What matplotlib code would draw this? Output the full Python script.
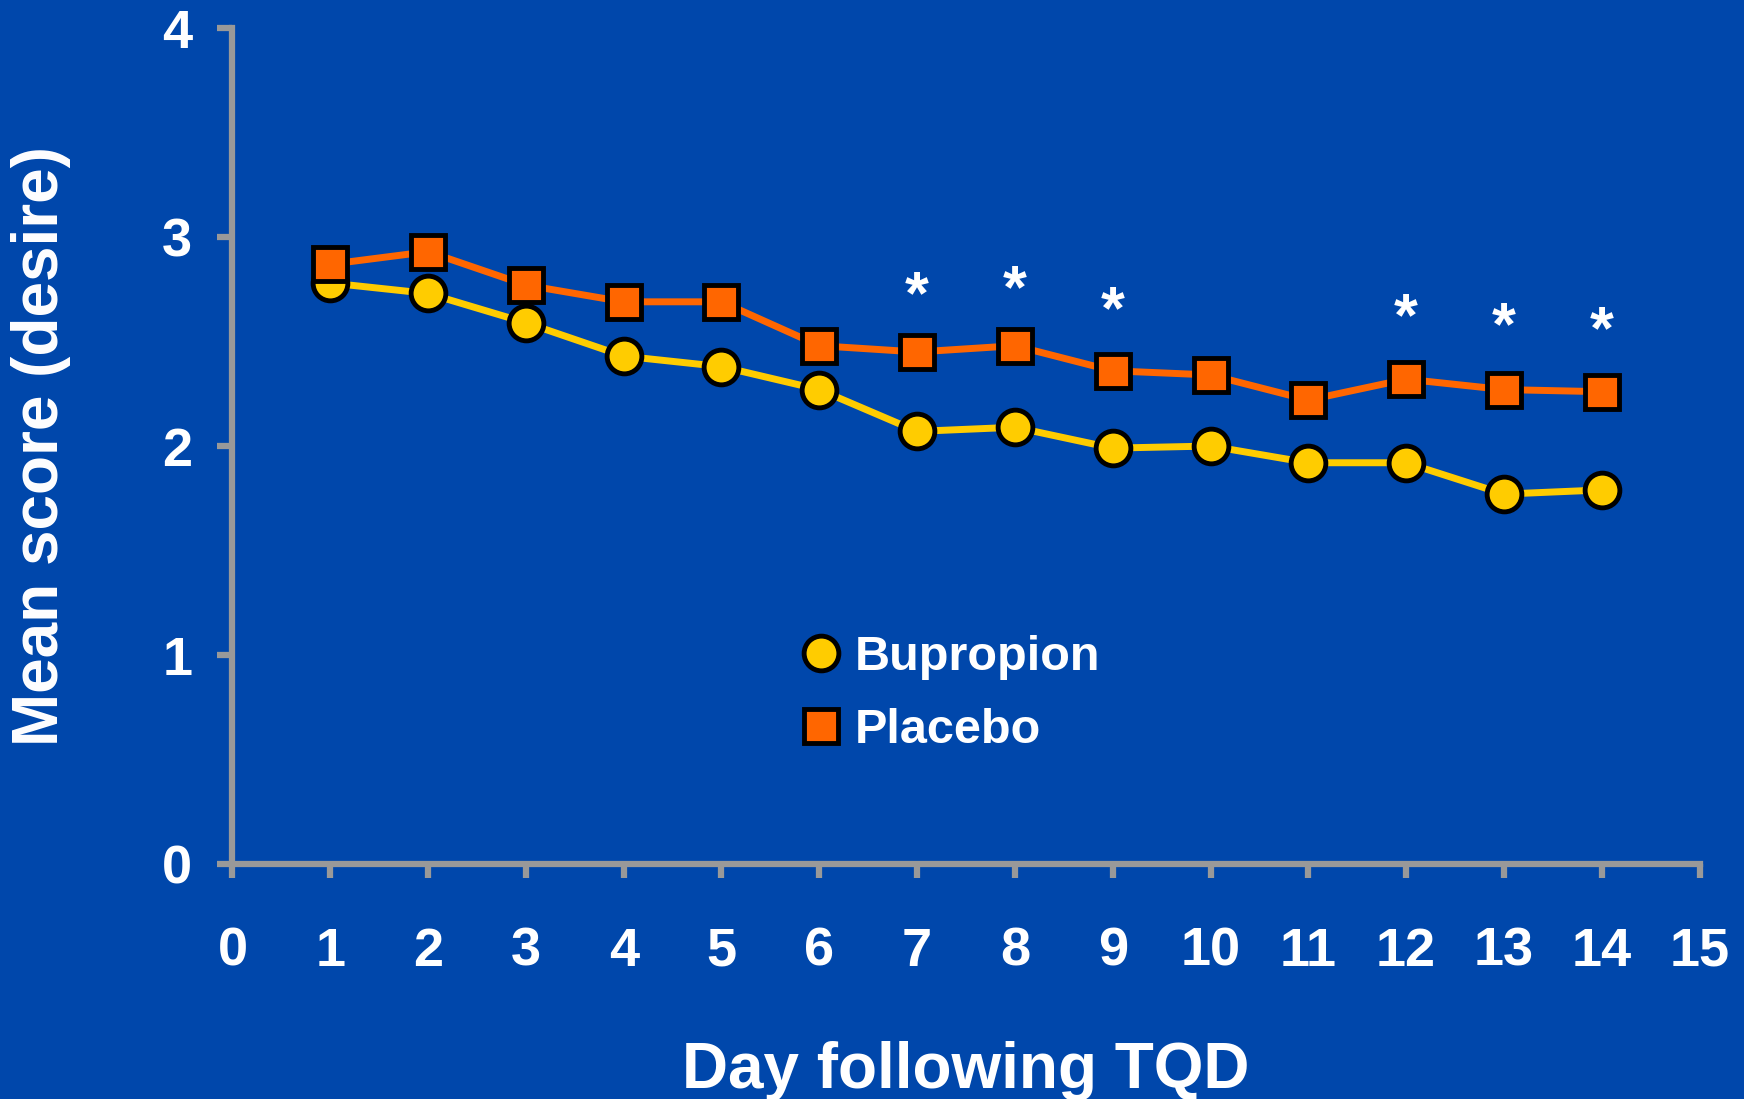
import matplotlib
matplotlib.use("Agg")
import matplotlib.pyplot as plt
from matplotlib.lines import Line2D

plt.rcParams['font.family'] = ['Liberation Sans', 'DejaVu Sans']
plt.rcParams['font.weight'] = 'bold'

# data
days = [1, 2, 3, 4, 5, 6, 7, 8, 9, 10, 11, 12, 13, 14]
bupropion = [2.78, 2.73, 2.59, 2.43, 2.38, 2.27, 2.07, 2.09, 1.99, 2.00, 1.92, 1.92, 1.77, 1.79]
placebo = [2.87, 2.93, 2.77, 2.69, 2.69, 2.48, 2.45, 2.48, 2.36, 2.34, 2.22, 2.32, 2.27, 2.26]

# significance markers
star_days = [7, 8, 9, 12, 13, 14]
star_y = [2.71, 2.74, 2.64, 2.605, 2.56, 2.54]

xticks = list(range(0, 16))
yticks = [0, 1, 2, 3, 4]

bg = '#0047AB'
yellow = '#FFCC00'
orange = '#FF6600'
grey = '#999999'

fig = plt.figure(figsize=(17.44, 10.99), dpi=100, facecolor=bg)
ax = fig.add_axes([0.1333, 0.2138, 0.8412, 0.7607])
ax.set_facecolor(bg)

ax.plot(days, bupropion, color=yellow, lw=5, marker='o', ms=25,
        mfc=yellow, mec='black', mew=3.5, zorder=3, clip_on=False)
ax.plot(days, placebo, color=orange, lw=5, marker='s', ms=25,
        mfc=orange, mec='black', mew=3.5, zorder=4, clip_on=False)

for d, s in zip(star_days, star_y):
    ax.text(d, s, '*', color='white', fontsize=44, fontweight='bold',
            ha='center', va='center')

ax.set_xlim(0, 15)
ax.set_ylim(0, 4)
ax.set_xticks(xticks)
ax.set_yticks(yticks)

for side in ['top', 'right']:
    ax.spines[side].set_visible(False)
for side in ['left', 'bottom']:
    ax.spines[side].set_color(grey)
    ax.spines[side].set_linewidth(4.5)

ax.tick_params(axis='x', direction='out', length=10, width=4.5, color=grey,
               labelsize=39, labelcolor='white', pad=35)
ax.tick_params(axis='y', direction='out', length=11, width=4.5, color=grey,
               labelsize=39, labelcolor='white', pad=18)
for lab in ax.get_xticklabels() + ax.get_yticklabels():
    lab.set_fontweight('bold')

ax.set_xlabel('Day following TQD', fontsize=46, fontweight='bold',
              color='white', va='baseline')
ax.xaxis.set_label_coords(0.5, -0.268)
ax.set_ylabel('Mean score (desire)', fontsize=46, fontweight='bold',
              color='white', va='center')
ax.yaxis.set_label_coords(-0.1305, 0.5)

handles = [
    Line2D([], [], ls='None', marker='o', ms=25, mfc=yellow, mec='black', mew=3.5),
    Line2D([], [], ls='None', marker='s', ms=25, mfc=orange, mec='black', mew=3.5),
]
leg = ax.legend(handles, ['Bupropion', 'Placebo'], loc='upper left',
                bbox_to_anchor=(0.388, 0.274), frameon=False,
                prop={'size': 35, 'weight': 'bold'}, handlelength=0.8,
                handletextpad=0.3, labelspacing=0.57, borderpad=0,
                borderaxespad=0)
for t in leg.get_texts():
    t.set_color('white')

fig.savefig('out.png', dpi=100, facecolor=bg)
